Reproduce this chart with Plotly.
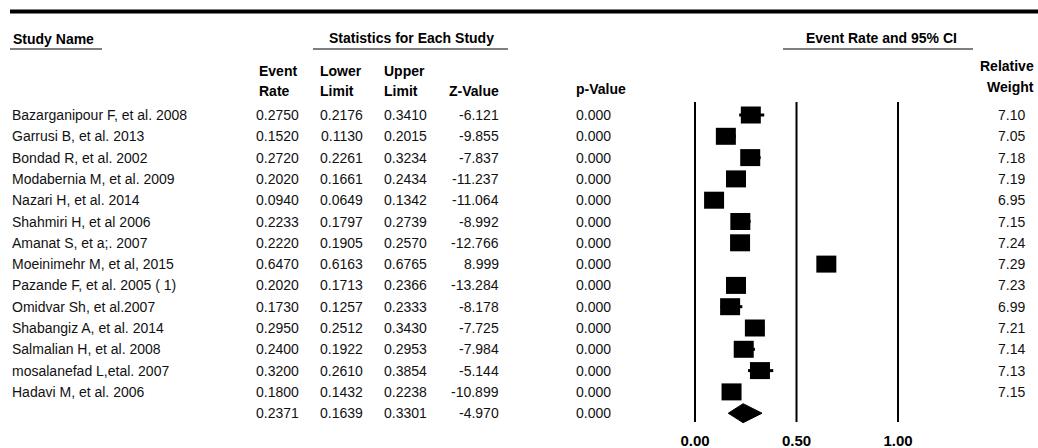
import plotly.graph_objects as go

# ---------------- data ----------------
studies = [
    "Bazarganipour F, et al. 2008", "Garrusi B, et al. 2013", "Bondad R, et al. 2002",
    "Modabernia M, et al. 2009", "Nazari H, et al. 2014", "Shahmiri H, et al 2006",
    "Amanat S, et a;. 2007", "Moeinimehr M, et al, 2015", "Pazande F, et al. 2005 ( 1)",
    "Omidvar Sh, et al.2007", "Shabangiz A, et al. 2014", "Salmalian H, et al. 2008",
    "mosalanefad L,etal. 2007", "Hadavi M, et al. 2006",
]
event_rate = [0.2750, 0.1520, 0.2720, 0.2020, 0.0940, 0.2233, 0.2220, 0.6470, 0.2020, 0.1730, 0.2950, 0.2400, 0.3200, 0.1800]
lower_limit = [0.2176, 0.1130, 0.2261, 0.1661, 0.0649, 0.1797, 0.1905, 0.6163, 0.1713, 0.1257, 0.2512, 0.1922, 0.2610, 0.1432]
upper_limit = [0.3410, 0.2015, 0.3234, 0.2434, 0.1342, 0.2739, 0.2570, 0.6765, 0.2366, 0.2333, 0.3430, 0.2953, 0.3854, 0.2238]
z_value = [-6.121, -9.855, -7.837, -11.237, -11.064, -8.992, -12.766, 8.999, -13.284, -8.178, -7.725, -7.984, -5.144, -10.899]
p_value = [0.000] * 14
rel_weight = [7.10, 7.05, 7.18, 7.19, 6.95, 7.15, 7.24, 7.29, 7.23, 6.99, 7.21, 7.14, 7.13, 7.15]

summary_rate = 0.2371
summary_lower = 0.1639
summary_upper = 0.3301
summary_z = -4.970
summary_p = 0.000

tick_vals = [0.0, 0.5, 1.0]
tick_text = ["0.00", "0.50", "1.00"]

# ---------------- layout helpers ----------------
W, H = 1038, 448
MB = 24
PH = H - MB                 # plot-area height (top margin 0)
ROW0, ROWH = 115.0, 21.3    # pixel y of first row, row pitch
X0PX, XSCALE = 695.0, 203.0 # pixel of value 0, pixels per unit

FONT = "Liberation Sans, Arial, sans-serif"
TXT = "#111111"

def px(x):
    return x / W

def py(y):
    return 1 - y / PH

n = len(studies)
ys = list(range(n))
y_sum = n

fig = go.Figure()

# CI lines
for i in range(n):
    fig.add_trace(go.Scatter(x=[lower_limit[i], upper_limit[i]], y=[ys[i], ys[i]],
                             mode="lines", line=dict(color="black", width=3),
                             showlegend=False, hoverinfo="skip"))

# squares (point estimates)
hw = 10 / XSCALE
hh = 8.5 / ROWH
for i in range(n):
    fig.add_shape(type="rect", xref="x", yref="y",
                  x0=event_rate[i] - hw, x1=event_rate[i] + hw,
                  y0=ys[i] - hh, y1=ys[i] + hh,
                  fillcolor="black", line=dict(width=0))

# summary diamond
dh = 9.5 / ROWH
fig.add_trace(go.Scatter(
    x=[summary_lower, summary_rate, summary_upper, summary_rate, summary_lower],
    y=[y_sum, y_sum - dh, y_sum, y_sum + dh, y_sum],
    mode="lines", fill="toself", fillcolor="black",
    line=dict(color="black", width=1), showlegend=False, hoverinfo="skip"))

# vertical reference lines
for v in tick_vals:
    fig.add_shape(type="line", xref="x", yref="paper", x0=v, x1=v,
                  y0=py(102), y1=py(422), line=dict(color="black", width=2))

# top thick rule and header underlines
fig.add_shape(type="line", xref="paper", yref="paper", x0=px(10), x1=px(1038),
              y0=py(11.5), y1=py(11.5), line=dict(color="black", width=4))
for a, b in [(10, 102), (313, 508), (783, 973)]:
    fig.add_shape(type="line", xref="paper", yref="paper", x0=px(a), x1=px(b),
                  y0=py(49), y1=py(49), line=dict(color="#555555", width=1.5))

ann = []

def add_text(text, x, y, xanchor="left", bold=False, yref="paper"):
    ann.append(dict(text=text, x=x, y=y, xref="paper", yref=yref,
                    xanchor=xanchor, yanchor="middle", showarrow=False,
                    font=dict(family=FONT, size=14, color="black" if bold else TXT,
                              weight="bold" if bold else "normal")))

# headers
add_text("Study Name", px(11), py(39), "left", True)
add_text("Statistics for Each Study", px(411), py(38), "center", True)
add_text("Event Rate and 95% CI", px(881), py(38), "center", True)
add_text("Event", px(257), py(71), "left", True)
add_text("Rate", px(257), py(91), "left", True)
add_text("Lower", px(318), py(71), "left", True)
add_text("Limit", px(318), py(91), "left", True)
add_text("Upper", px(382), py(71), "left", True)
add_text("Limit", px(382), py(91), "left", True)
add_text("Z-Value", px(501), py(91), "right", True)
add_text("p-Value", px(574), py(89), "left", True)
add_text("Relative", px(1036), py(66), "right", True)
add_text("Weight", px(1036), py(87), "right", True)

# table rows
for i in range(n):
    add_text(studies[i], px(10), ys[i], "left", yref="y")
    add_text(f"{event_rate[i]:.4f}", px(301), ys[i], "right", yref="y")
    add_text(f"{lower_limit[i]:.4f}", px(365), ys[i], "right", yref="y")
    add_text(f"{upper_limit[i]:.4f}", px(429), ys[i], "right", yref="y")
    add_text(f"{z_value[i]:.3f}", px(501), ys[i], "right", yref="y")
    add_text(f"{p_value[i]:.3f}", px(613), ys[i], "right", yref="y")
    add_text(f"{rel_weight[i]:.2f}", px(1027), ys[i], "right", yref="y")

add_text(f"{summary_rate:.4f}", px(301), y_sum, "right", yref="y")
add_text(f"{summary_lower:.4f}", px(365), y_sum, "right", yref="y")
add_text(f"{summary_upper:.4f}", px(429), y_sum, "right", yref="y")
add_text(f"{summary_z:.3f}", px(501), y_sum, "right", yref="y")
add_text(f"{summary_p:.3f}", px(613), y_sum, "right", yref="y")

ytop = -ROW0 / ROWH
ybot = ytop + PH / ROWH
fig.update_layout(
    width=W, height=H, autosize=False,
    margin=dict(l=0, r=0, t=0, b=MB, pad=0),
    paper_bgcolor="white", plot_bgcolor="white",
    annotations=ann,
    xaxis=dict(range=[-X0PX / XSCALE, (W - X0PX) / XSCALE], showgrid=False,
               zeroline=False, showline=False, ticks="",
               tickvals=tick_vals, ticktext=tick_text, ticklabelstandoff=6,
               tickfont=dict(family=FONT, size=15, color="black", weight="bold")),
    yaxis=dict(range=[ybot, ytop], visible=False),
    showlegend=False,
)

fig.write_html("out.html", config={"displayModeBar": False},
               post_script="document.body.style.margin='0';document.body.style.overflow='hidden';")
